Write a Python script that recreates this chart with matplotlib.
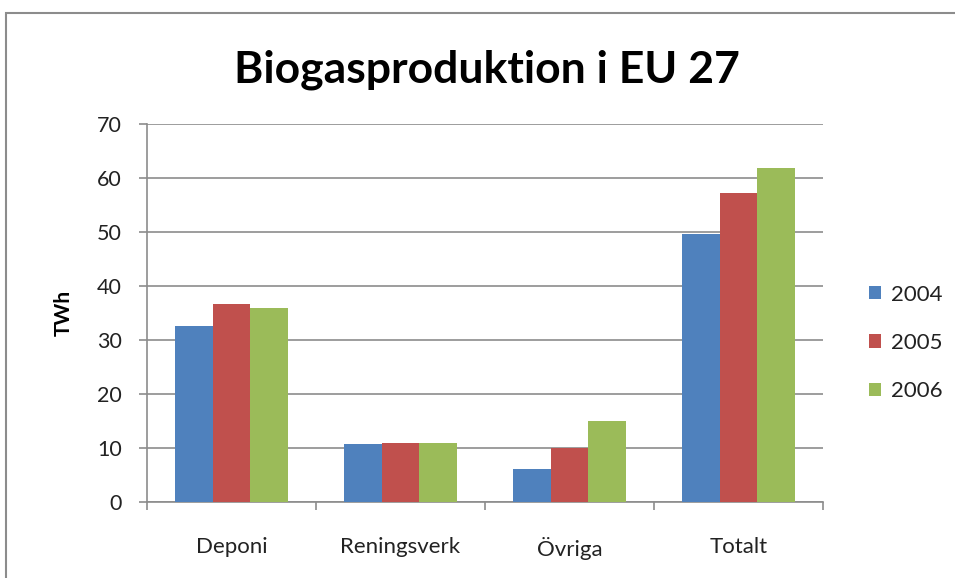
import matplotlib.pyplot as plt
import numpy as np
from matplotlib.patches import Rectangle

plt.rcParams['font.family'] = ['Lato', 'DejaVu Sans']

categories = ['Deponi', 'Reningsverk', 'Övriga', 'Totalt']
years = ['2004', '2005', '2006']
v2004 = [32.6, 10.8, 6.1, 49.6]
v2005 = [36.7, 11.0, 10.0, 57.3]
v2006 = [36.0, 11.0, 15.0, 61.8]
colors = ['#4F81BD', '#C0504D', '#9BBB59']

fig = plt.figure(figsize=(9.55, 5.78), dpi=100)
fig.patches.append(Rectangle((0.006, -0.1), 1.1, 1.078, transform=fig.transFigure,
                             fill=False, edgecolor='#8c8c8c', linewidth=1.5))

ax = fig.add_axes([0.1539, 0.1315, 0.7079, 0.654])
x = np.arange(len(categories))
w = 0.222
for i, (vals, yr) in enumerate(zip([v2004, v2005, v2006], years)):
    ax.bar(x + (i - 1) * w, vals, w, color=colors[i], label=yr, zorder=3)

ax.set_xlim(-0.5, 3.5)
ax.set_ylim(0, 70)
ax.set_yticks(range(0, 71, 10))
ax.grid(axis='y', color='#8c8c8c', linewidth=1.2, zorder=0)
for s in ['top', 'right']:
    ax.spines[s].set_visible(False)
for s in ['left', 'bottom']:
    ax.spines[s].set_color('#8c8c8c')
    ax.spines[s].set_linewidth(1.2)

ax.set_xticks(x)
ax.set_xticklabels(categories)
ax.set_xticks(np.arange(-0.5, 4, 1), minor=True)
ax.tick_params(axis='x', which='major', length=0, pad=25, labelsize=16, labelcolor='#222222')
ax.tick_params(axis='x', which='minor', length=6, color='#8c8c8c', width=1.2)
ax.tick_params(axis='y', length=6, color='#8c8c8c', width=1.2, pad=12,
               labelsize=15.5, labelcolor='#222222')

ax.set_ylabel('TWh', fontsize=15, fontweight='bold', labelpad=17)
fig.text(0.51, 0.88, 'Biogasproduktion i EU 27', ha='center', va='center',
         fontsize=32, fontweight='bold')

ax.legend(loc='center left', bbox_to_anchor=(1.068, 0.421), frameon=False,
          borderpad=0, borderaxespad=0,
          fontsize=16, handlelength=0.55, handleheight=0.55, labelspacing=1.27,
          handletextpad=0.45, labelcolor='#222222')

fig.savefig('out.png', dpi=100)
